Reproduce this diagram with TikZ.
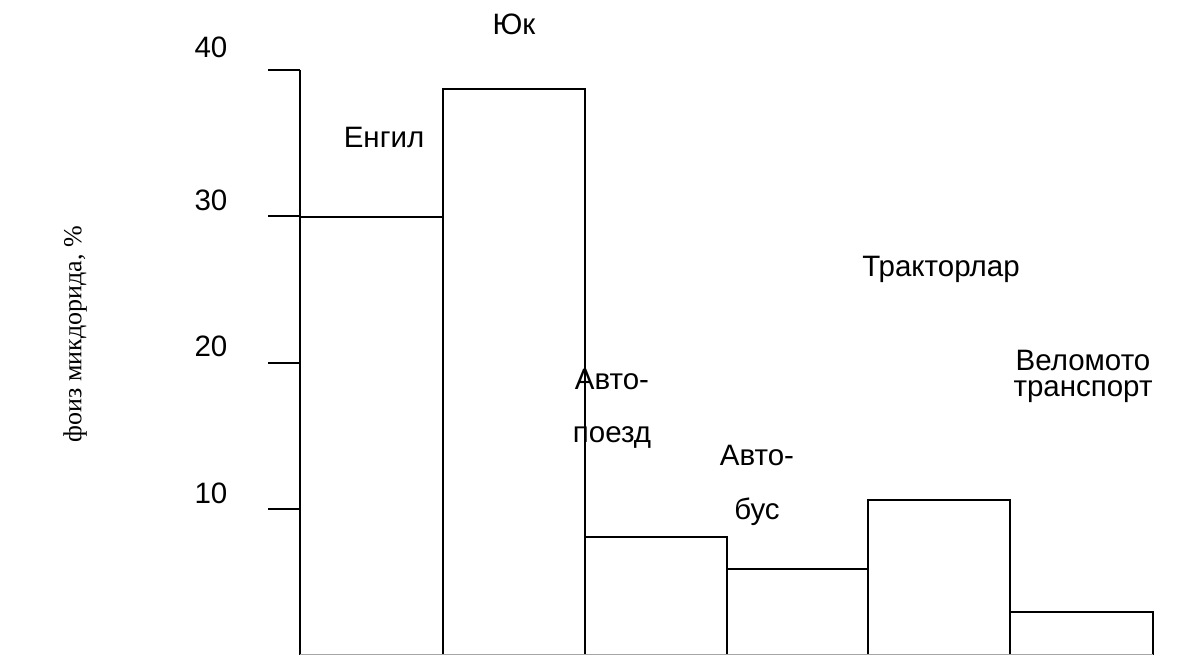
\documentclass[tikz,border=0pt]{standalone}
\usepackage{fontspec}
\setmainfont{Liberation Sans}
\newfontfamily\serifyl{Liberation Serif}
\begin{document}
\begin{tikzpicture}[x=1pt,y=-1pt,
  axisline/.style={line width=2.2pt,black},
  barline/.style={line width=1.8pt,black},
  lbl/.style={font=\fontsize{29.5}{35}\selectfont,inner sep=0pt,anchor=center},
  ylbl/.style={font=\serifyl\fontsize{26}{32}\selectfont,inner sep=0pt,anchor=center,rotate=90}]
\useasboundingbox (0,0) rectangle (1192,655);
% axis
\coordinate (ax0) at (300,655);
\coordinate (ax40) at (300,70);
\draw[axisline] (ax0) -- (ax40);
\foreach \yy in {70,216,363,509}{\draw[barline] (268,\yy) -- (300,\yy);}
% bars
\draw[barline] (300,655) -- (300,217) -- (443,217) -- (443,655);
\draw[barline] (443,655) -- (443,89) -- (585,89) -- (585,655);
\draw[barline] (585,655) -- (585,537) -- (727,537) -- (727,655);
\draw[barline] (727,655) -- (727,569) -- (868,569) -- (868,655);
\draw[barline] (868,655) -- (868,500) -- (1010,500) -- (1010,655);
\draw[barline] (1010,655) -- (1010,612) -- (1153,612) -- (1153,655);
\draw[line width=1.2pt,black!35] (300,654.5) -- (1153,654.5);
% tick labels
\node[lbl] (t40) at (211,47) {40};
\node[lbl] (t30) at (211,200) {30};
\node[lbl] (t20) at (211,346) {20};
\node[lbl] (t10) at (211,493) {10};
% bar labels
\node[lbl] (l1) at (514,24) {Юк};
\node[lbl] (l2) at (384,137) {Енгил};
\node[lbl] (l3) at (941,269) {Тракторлар};
\node[lbl] (l4a) at (612,379) {Авто-};
\node[lbl] (l4b) at (612,437) {поезд};
\node[lbl] (l5a) at (757,455) {Авто-};
\node[lbl] (l5b) at (757,512) {бус};
\node[lbl] (l6a) at (1083,360) {Веломото};
\node[lbl] (l6b) at (1083,392) {транспорт};
% y label
\node[ylbl] (yl) at (75,334) {фоиз микдорида, \%};
\end{tikzpicture}
\end{document}
